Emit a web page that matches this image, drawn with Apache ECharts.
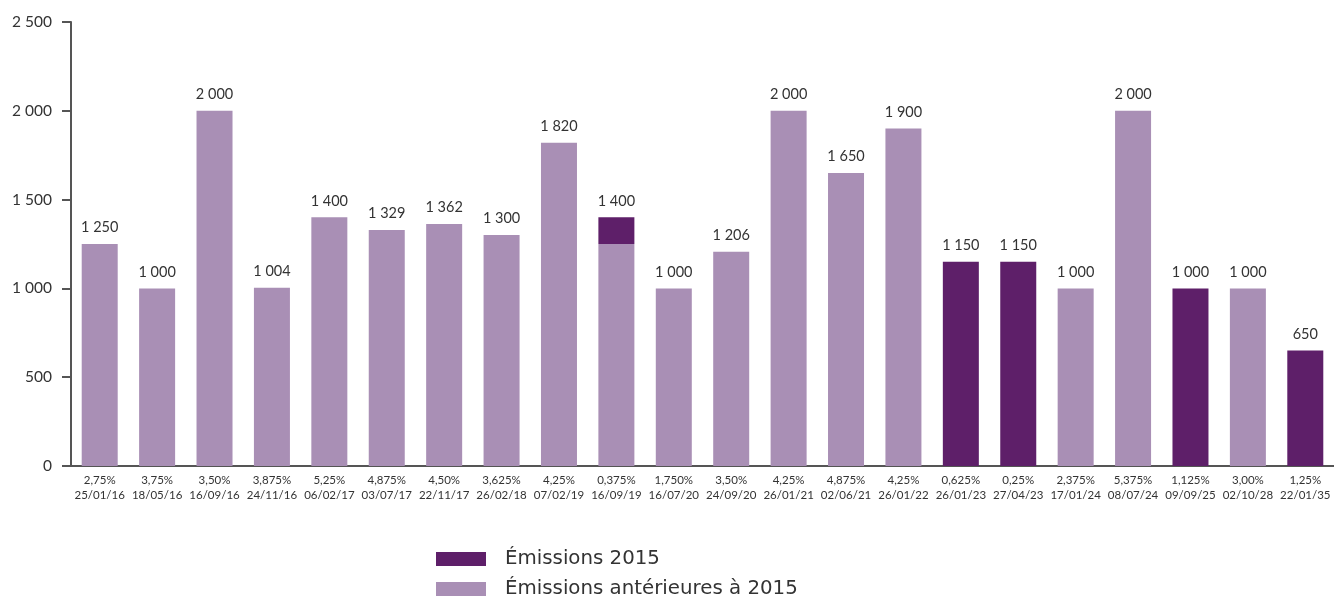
<!DOCTYPE html>
<html><head><meta charset="utf-8">
<script src="https://cdn.jsdelivr.net/npm/echarts@6/dist/echarts.min.js"></script>
<style>html,body{margin:0;padding:0;background:#fff}#c{width:1334px;height:597px}</style>
</head><body><div id="c"></div>
<script>
const rates = ['2,75%','3,75%','3,50%','3,875%','5,25%','4,875%','4,50%','3,625%','4,25%','0,375%','1,750%','3,50%','4,25%','4,875%','4,25%','0,625%','0,25%','2,375%','5,375%','1,125%','3,00%','1,25%'];
const dates = ['25/01/16','18/05/16','16/09/16','24/11/16','06/02/17','03/07/17','22/11/17','26/02/18','07/02/19','16/09/19','16/07/20','24/09/20','26/01/21','02/06/21','26/01/22','26/01/23','27/04/23','17/01/24','08/07/24','09/09/25','02/10/28','22/01/35'];
const before2015 = [1250,1000,2000,1004,1400,1329,1362,1300,1820,1250,1000,1206,2000,1650,1900,0,0,1000,2000,0,1000,0];
const issued2015 = [0,0,0,0,0,0,0,0,0,150,0,0,0,0,0,1150,1150,0,0,1000,0,650];
const yTicks = [0,500,1000,1500,2000,2500];

const categories = rates.map((r,i)=>r+'\n'+dates[i]);
const totals = before2015.map((v,i)=>v+issued2015[i]);
const fmt = v => String(v).replace(/\B(?=(\d{3})+(?!\d))/g,' ');
const FONT = 'Lato';
const DARK = '#5e1f69', LIGHT = '#a98fb5';
const chart = echarts.init(document.getElementById('c'));
const legendText = {fontFamily:'DejaVu Sans', fontSize:19.8, color:'#333', padding:[0,0,0,14]};
chart.setOption({
  animation:false,
  textStyle:{fontFamily:FONT},
  grid:{left:71, top:22, width:1263, bottom:131, containLabel:false},
  legend:[
    {left:431, top:544, itemWidth:50, itemHeight:14, icon:'rect', data:['Émissions 2015'], textStyle:legendText},
    {left:431, top:574, itemWidth:50, itemHeight:14, icon:'rect', data:['Émissions antérieures à 2015'], textStyle:legendText}
  ],
  xAxis:{
    type:'category', data:categories,
    axisLine:{lineStyle:{color:'#555', width:2}},
    axisTick:{show:false},
    axisLabel:{interval:0, fontFamily:FONT, fontSize:11.5, color:'#333', lineHeight:15, margin:7}
  },
  yAxis:{
    type:'value', min:yTicks[0], max:yTicks[yTicks.length-1], interval:yTicks[1]-yTicks[0],
    axisLine:{show:true, lineStyle:{color:'#555', width:2}},
    axisTick:{show:true, length:9, lineStyle:{color:'#555', width:2}},
    splitLine:{show:false},
    axisLabel:{fontFamily:FONT, fontSize:15.5, color:'#333', margin:19, formatter:v=>fmt(v)}
  },
  series:[
    {name:'Émissions antérieures à 2015', type:'bar', stack:'a', barWidth:36,
     itemStyle:{color:LIGHT},
     data:before2015.map(v=>v===0?null:v)},
    {name:'Émissions 2015', type:'bar', stack:'a', barWidth:36,
     itemStyle:{color:DARK},
     data:issued2015.map(v=>v===0?null:v)},
    {name:'total', type:'bar', stack:'a', barWidth:36,
     itemStyle:{color:'transparent'},
     label:{show:true, position:'top', distance:9, fontFamily:FONT, fontSize:14.5, color:'#333',
       formatter:p=>fmt(totals[p.dataIndex])},
     data:totals.map(()=>0)}
  ]
});
</script></body></html>
